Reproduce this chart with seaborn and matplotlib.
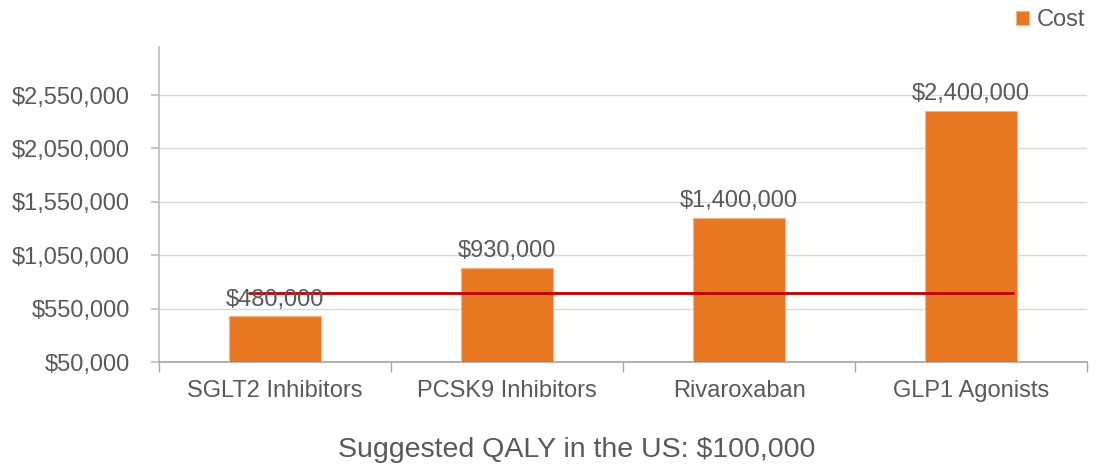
import pandas as pd
import matplotlib
matplotlib.use('Agg')
import matplotlib.pyplot as plt
import matplotlib.ticker as mticker
import seaborn as sns

# chart data
treatments = ['SGLT2 Inhibitors', 'PCSK9 Inhibitors', 'Rivaroxaban', 'GLP1 Agonists']
costs = [480000, 930000, 1400000, 2400000]
cost_labels = ['$480,000', '$930,000', '$1,400,000', '$2,400,000']
threshold = 700000
y_ticks = [50000, 550000, 1050000, 1550000, 2050000, 2550000]

df = pd.DataFrame({'Treatment': treatments, 'Cost': costs})

sns.set_theme(style='white')
plt.rcParams['font.family'] = ['Liberation Sans', 'DejaVu Sans']

text_gray = '#595959'
orange = '#E87722'

fig = plt.figure(figsize=(10.99, 4.65), dpi=100)
ax = fig.add_axes([0.1447, 0.2215, 0.8444, 0.6775])

sns.barplot(data=df, x='Treatment', y='Cost', color=orange, width=0.4,
            edgecolor='#F3B489', linewidth=0.8, saturation=1, label='Cost',
            ax=ax, zorder=3)

# value labels above the bars
ax.bar_label(ax.containers[0], labels=cost_labels, padding=4,
             fontsize=17, color=text_gray, zorder=5)

# threshold line
ax.axhline(threshold, xmin=0.097, xmax=0.920, color='#C00000', linewidth=2, zorder=4)

ax.set_ylim(50000, 3000000)
ax.set_xlim(-0.5, 3.5)
ax.set_yticks(y_ticks)
ax.yaxis.set_major_formatter(mticker.FuncFormatter(lambda v, p: '${:,.0f}'.format(v)))
ax.yaxis.grid(True, color='#D9D9D9', linewidth=1, zorder=0)
ax.set_axisbelow(True)

ax.set_xlabel('')
ax.set_ylabel('')
ax.tick_params(axis='y', length=6, color='#BFBFBF', labelsize=17, labelcolor=text_gray, pad=15, left=True)
ax.tick_params(axis='x', which='major', length=0, labelsize=17, labelcolor=text_gray, pad=13)
ax.set_xticks([-0.5, 0.5, 1.5, 2.5, 3.5], minor=True)
ax.tick_params(axis='x', which='minor', length=7, color='#A6A6A6', bottom=True)

for s in ['top', 'right']:
    ax.spines[s].set_visible(False)
ax.spines['left'].set_color('#BFBFBF')
ax.spines['bottom'].set_color('#A6A6A6')

ax.legend(loc='upper right', bbox_to_anchor=(1.008, 1.15), frameon=False,
          fontsize=17, labelcolor=text_gray, handlelength=0.55, handleheight=0.55,
          handletextpad=0.3, borderaxespad=0)

fig.text(0.525, 0.032, 'Suggested QALY in the US: $100,000', ha='center', va='center',
         fontsize=20.5, color=text_gray)

fig.savefig('out.png', dpi=100)
